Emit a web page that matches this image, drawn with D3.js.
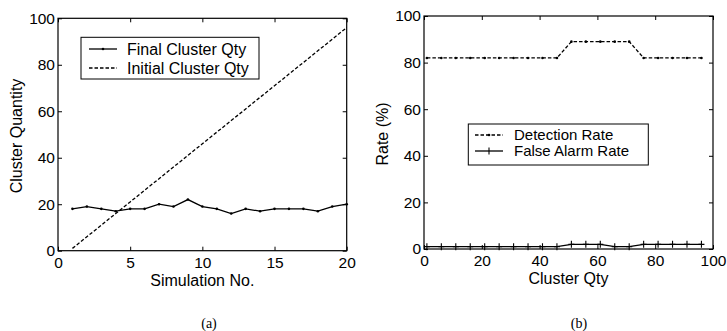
<!DOCTYPE html>
<html><head><meta charset="utf-8">
<script src="https://cdn.jsdelivr.net/npm/d3@7"></script>
<style>
body{margin:0;background:#fff;}
svg{display:block;}
text{font-family:"Liberation Sans",Arial,sans-serif;fill:#000;}
</style></head>
<body>
<script>
// ---- Data ----
const simNo = [1,2,3,4,5,6,7,8,9,10,11,12,13,14,15,16,17,18,19,20];
const finalClusterQty = [18,19,18,17,18,18,20,19,22,19,18,16,18,17,18,18,18,17,19,20];
const initialClusterQty = [1,6,11,16,21,26,31,36,41,46,51,56,61,66,71,76,81,86,91,96];
const clusterQty = [1,6,11,16,21,26,31,36,41,46,51,56,61,66,71,76,81,86,91,96];
const detectionRate = [82,82,82,82,82,82,82,82,82,82,89,89,89,89,89,82,82,82,82,82];
const falseAlarmRate = [1,1,1,1,1,1,1,1,1,1,2,2,2,1,1,2,2,2,2,2];
const ticksA_x = [0,5,10,15,20];
const ticksB_x = [0,20,40,60,80,100];
const ticksY = [0,20,40,60,80,100];

const W=727,H=331;
const svg=d3.select("body").append("svg").attr("width",W).attr("height",H);
svg.append("rect").attr("width",W).attr("height",H).attr("fill","#fff");

function panel(o){
  const g=svg.append("g");
  const x=d3.scaleLinear().domain(o.xd).range([o.l,o.r]);
  const y=d3.scaleLinear().domain([0,100]).range([o.b,o.t]);
  const TS=4;
  const ax=g.append("g").attr("transform",`translate(0,${o.b})`)
    .call(d3.axisBottom(x).tickValues(o.xt).tickSizeInner(-TS).tickSizeOuter(0).tickPadding(6));
  const ay=g.append("g").attr("transform",`translate(${o.l},0)`)
    .call(d3.axisLeft(y).tickValues(ticksY).tickSizeInner(-TS).tickSizeOuter(0).tickPadding(3));
  const at=g.append("g").attr("transform",`translate(0,${o.t})`)
    .call(d3.axisTop(x).tickValues(o.xt).tickSizeInner(-TS).tickSizeOuter(0).tickFormat(""));
  const ar=g.append("g").attr("transform",`translate(${o.r},0)`)
    .call(d3.axisRight(y).tickValues(ticksY).tickSizeInner(-TS).tickSizeOuter(0).tickFormat(""));
  [ax,ay,at,ar].forEach(a=>{a.select(".domain").remove();a.selectAll("line").attr("stroke","#000");
    a.selectAll("text").style("font-size","15.5px").attr("fill","#000");});
  g.append("rect").attr("x",o.l).attr("y",o.t).attr("width",o.r-o.l).attr("height",o.b-o.t)
    .attr("fill","none").attr("stroke","#000").attr("stroke-width",1.2);
  g.append("text").attr("x",(o.l+o.r)/2).attr("y",o.b+35).attr("text-anchor","middle")
    .style("font-size","16px").text(o.xl);
  g.append("text").attr("transform",`translate(${o.yx},${o.yc}) rotate(-90)`).attr("text-anchor","middle")
    .style("font-size","16px").text(o.yl);
  g.append("text").attr("x",o.cx).attr("y",328).attr("text-anchor","middle")
    .style("font-family","'Liberation Serif','Times New Roman',serif").style("font-size","14px").text(o.cap);
  return {g,x,y};
}

function addLine(g,x,y,xs,ys,dash){
  const line=d3.line().x((d,i)=>x(xs[i])).y(d=>y(d));
  g.append("path").datum(ys).attr("d",line).attr("fill","none").attr("stroke","#000")
    .attr("stroke-width",1.3).attr("stroke-dasharray",dash||null);
}
function addDots(g,x,y,xs,ys){
  g.selectAll(null).data(ys).enter().append("circle").attr("cx",(d,i)=>x(xs[i])).attr("cy",d=>y(d))
    .attr("r",1.3).attr("fill","#000");
}
function addPlus(g,x,y,xs,ys){
  g.selectAll(null).data(ys).enter().append("path")
    .attr("d",(d,i)=>{const cx=x(xs[i]),cy=y(d);return `M${cx-3},${cy}H${cx+3}M${cx},${cy-3.5}V${cy+3.5}`;})
    .attr("stroke","#000").attr("stroke-width",1.1).attr("fill","none");
}

// Panel (a)
const A=panel({l:58,r:346.7,t:18.3,b:250.7,xd:[0,20],xt:ticksA_x,xl:"Simulation No.",yl:"Cluster Quantity",yx:22,yc:136,cx:209,cap:"(a)"});
addLine(A.g,A.x,A.y,simNo,initialClusterQty,"3.5,2");
addLine(A.g,A.x,A.y,simNo,finalClusterQty);
addDots(A.g,A.x,A.y,simNo,finalClusterQty);
{
  const g=A.g;
  g.append("rect").attr("x",81).attr("y",37.3).attr("width",178).attr("height",41.7).attr("fill","#fff").attr("stroke","#000").attr("stroke-width",1);
  g.append("line").attr("x1",89).attr("x2",117).attr("y1",49).attr("y2",49).attr("stroke","#000").attr("stroke-width",1.3);
  g.append("circle").attr("cx",103).attr("cy",49).attr("r",1.3);
  g.append("text").attr("x",127).attr("y",49).attr("dy","0.35em").style("font-size","16px").text("Final Cluster Qty");
  g.append("line").attr("x1",89).attr("x2",117).attr("y1",68).attr("y2",68).attr("stroke","#000").attr("stroke-width",1.3).attr("stroke-dasharray","3.5,2");
  g.append("text").attr("x",127).attr("y",68).attr("dy","0.35em").style("font-size","16px").text("Initial Cluster Qty");
}

// Panel (b)
const B=panel({l:424,r:713,t:16,b:249,xd:[0,100],xt:ticksB_x,xl:"Cluster Qty",yl:"Rate (%)",yx:388,yc:134,cx:579,cap:"(b)"});
addLine(B.g,B.x,B.y,clusterQty,detectionRate,"3.5,2");
addDots(B.g,B.x,B.y,clusterQty,detectionRate);
addLine(B.g,B.x,B.y,clusterQty,falseAlarmRate);
addPlus(B.g,B.x,B.y,clusterQty,falseAlarmRate);
{
  const g=B.g;
  g.append("rect").attr("x",468.3).attr("y",124).attr("width",180).attr("height",41).attr("fill","#fff").attr("stroke","#000").attr("stroke-width",1);
  g.append("line").attr("x1",475).attr("x2",503).attr("y1",135).attr("y2",135).attr("stroke","#000").attr("stroke-width",1.3).attr("stroke-dasharray","3.5,2");
  g.append("circle").attr("cx",489).attr("cy",135).attr("r",1.3);
  g.append("text").attr("x",514).attr("y",135).attr("dy","0.35em").style("font-size","15px").text("Detection Rate");
  g.append("line").attr("x1",475).attr("x2",503).attr("y1",151).attr("y2",151).attr("stroke","#000").attr("stroke-width",1.3);
  g.append("path").attr("d","M489,147.5V154.5").attr("stroke","#000").attr("stroke-width",1.1);
  g.append("text").attr("x",514).attr("y",151).attr("dy","0.35em").style("font-size","15px").text("False Alarm Rate");
}
</script>
</body></html>
